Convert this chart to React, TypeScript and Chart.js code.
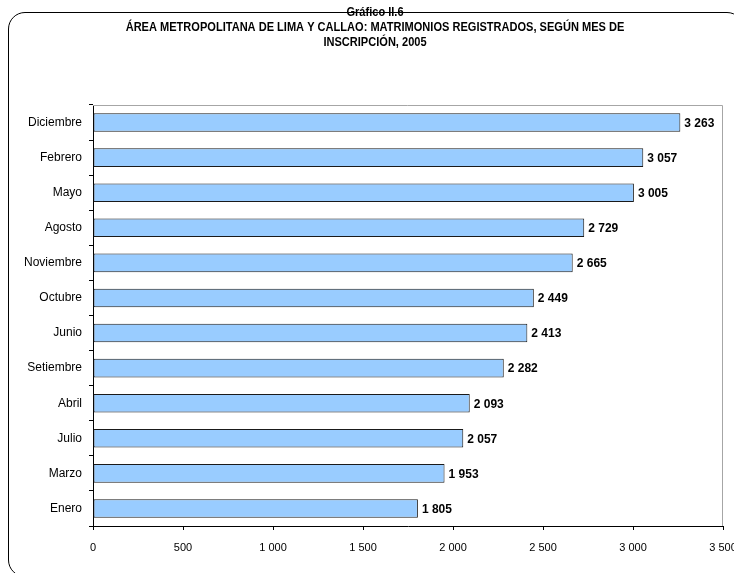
import React, { useEffect, useRef } from 'react';
import { Chart, registerables } from 'chart.js';

Chart.register(...registerables);

const months = [
  'Diciembre', 'Febrero', 'Mayo', 'Agosto', 'Noviembre', 'Octubre',
  'Junio', 'Setiembre', 'Abril', 'Julio', 'Marzo', 'Enero',
];
const marriages = [3263, 3057, 3005, 2729, 2665, 2449, 2413, 2282, 2093, 2057, 1953, 1805];
const titleLines = [
  'Gráfico II.6',
  'ÁREA METROPOLITANA DE LIMA Y CALLAO: MATRIMONIOS REGISTRADOS, SEGÚN MES DE',
  'INSCRIPCIÓN, 2005',
];
const xMin = 0;
const xMax = 3500;
const xStep = 500;

const FONT = "'Liberation Sans Narrow', 'Arial Narrow', Arial, 'Liberation Sans', sans-serif";

// "1 000" style thousands separator
const fmt = (v: number) => {
  const n = Math.round(v);
  if (n < 1000) return String(n);
  return `${Math.floor(n / 1000)} ${String(n % 1000).padStart(3, '0')}`;
};

// title in a condensed look: no narrow font installed, so squeeze it horizontally
const narrowTitle = {
  id: 'narrowTitle',
  afterDraw(chart: any) {
    const ctx = chart.ctx;
    const sx = 0.85;
    ctx.save();
    ctx.font = `bold 13px ${FONT}`;
    ctx.fillStyle = '#000';
    ctx.textAlign = 'center';
    ctx.textBaseline = 'middle';
    ctx.scale(sx, 1);
    titleLines.forEach((line, i) => {
      ctx.fillText(line, 375 / sx, 12 + i * 15);
    });
    ctx.restore();
  },
};

const valueLabels = {
  id: 'valueLabels',
  afterDatasetsDraw(chart: any) {
    const ctx = chart.ctx;
    const meta = chart.getDatasetMeta(0);
    ctx.save();
    ctx.font = `bold 12px ${FONT}`;
    ctx.fillStyle = '#000';
    ctx.textAlign = 'left';
    ctx.textBaseline = 'middle';
    meta.data.forEach((bar: any, i: number) => {
      ctx.fillText(fmt(marriages[i]), bar.x + 4, bar.y + 1);
    });
    ctx.restore();
  },
};

const plotFrame = {
  id: 'plotFrame',
  beforeDatasetsDraw(chart: any) {
    const { ctx, chartArea } = chart;
    ctx.save();
    ctx.strokeStyle = '#a6a6a6';
    ctx.lineWidth = 1;
    ctx.beginPath();
    ctx.moveTo(chartArea.left, chartArea.top + 0.5);
    ctx.lineTo(chartArea.right - 0.5, chartArea.top + 0.5);
    ctx.lineTo(chartArea.right - 0.5, chartArea.bottom);
    ctx.stroke();
    ctx.restore();
  },
};

const MarriagesChart = () => {
  const chartRef = useRef<HTMLCanvasElement>(null);
  const chartInstance = useRef<Chart | null>(null);

  useEffect(() => {
    if (!chartRef.current) return;
    const ctx = chartRef.current.getContext('2d');
    if (!ctx) return;

    if (chartInstance.current) {
      chartInstance.current.destroy();
    }

    chartInstance.current = new Chart(ctx, {
      type: 'bar',
      data: {
        labels: months,
        datasets: [{
          data: marriages,
          backgroundColor: '#99ccff',
          borderColor: '#1a1a1a',
          borderWidth: 1,
          borderSkipped: false,
          barPercentage: 0.53,
          categoryPercentage: 1,
        }],
      },
      options: {
        indexAxis: 'y',
        responsive: false,
        animation: false,
        devicePixelRatio: 1,
        layout: { padding: { left: 16, right: 0, top: 105, bottom: 0 } },
        plugins: {
          legend: { display: false },
          tooltip: { enabled: false },
          title: { display: false },
        },
        scales: {
          x: {
            min: xMin,
            max: xMax,
            grid: { drawOnChartArea: false, tickLength: 4, color: '#000' },
            border: { color: '#000' },
            ticks: {
              stepSize: xStep,
              autoSkip: false,
              maxRotation: 0,
              padding: 11,
              color: '#000',
              font: { family: FONT, size: 11 },
              callback: (v: any) => fmt(Number(v)),
            },
            afterFit: (scale: any) => {
              scale.height = 47;
              scale.paddingRight = 11;
              scale.paddingLeft = 0;
            },
          },
          y: {
            grid: { drawOnChartArea: false, tickLength: 4, color: '#000' },
            border: { color: '#000' },
            ticks: {
              padding: 7,
              color: '#000',
              font: { family: FONT, size: 12 },
            },
            afterFit: (scale: any) => {
              scale.width = 77;
              scale.paddingTop = 0;
              scale.paddingBottom = 0;
            },
          },
        },
      },
      plugins: [plotFrame, valueLabels, narrowTitle],
    });

    return () => {
      if (chartInstance.current) {
        chartInstance.current.destroy();
        chartInstance.current = null;
      }
    };
  }, []);

  return <canvas ref={chartRef} width={734} height={573} />;
};

export default function App() {
  return (
    <div style={{ position: 'absolute', left: 0, top: 0, width: 734, height: 573, overflow: 'hidden', background: '#fff' }}>
      <div
        style={{
          position: 'absolute',
          left: 8,
          top: 12,
          width: 736,
          height: 565,
          border: '1px solid #000',
          borderRadius: 17,
          boxSizing: 'border-box',
        }}
      />
      <div style={{ position: 'absolute', left: 0, top: 0 }}>
        <MarriagesChart />
      </div>
    </div>
  );
}
